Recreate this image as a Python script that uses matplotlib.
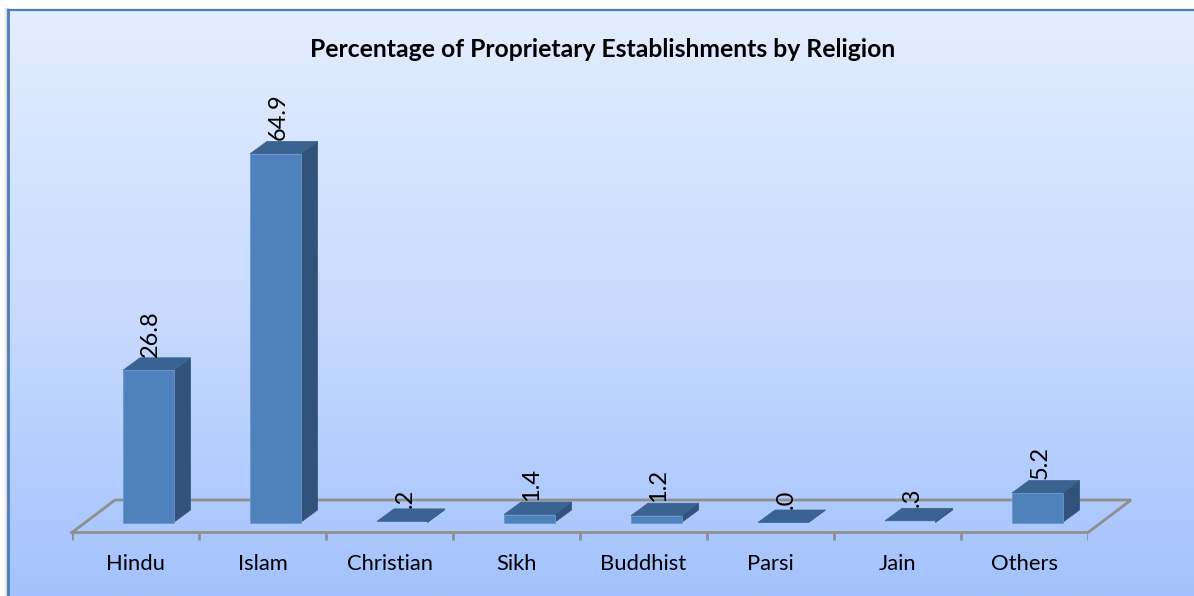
import numpy as np
import matplotlib
matplotlib.use("Agg")
import matplotlib.pyplot as plt
from matplotlib.colors import LinearSegmentedColormap
from matplotlib.patches import Polygon, Rectangle

categories = ["Hindu", "Islam", "Christian", "Sikh", "Buddhist", "Parsi", "Jain", "Others"]
values = [26.8, 64.9, 0.2, 1.4, 1.2, 0.0, 0.3, 5.2]
value_labels = ["26.8", "64.9", ".2", "1.4", "1.2", ".0", ".3", "5.2"]
title = "Percentage of Proprietary Establishments by Religion"

W, H = 1194, 596
plt.rcParams["font.family"] = ["Lato", "DejaVu Sans"]
fig = plt.figure(figsize=(W / 100, H / 100), dpi=100, facecolor="white")

# background panel with shadow and border
bg = fig.add_axes([0, 0, 1, 1], zorder=0)
bg.set_xlim(0, W); bg.set_ylim(H, 0); bg.axis("off")
cmap = LinearSegmentedColormap.from_list("panel", ["#e3edff", "#c9dbfe", "#a3c2fd"])
bg.imshow(np.linspace(0, 1, 256).reshape(-1, 1), cmap=cmap, aspect="auto",
          extent=[8, W, H, 10], zorder=1)
for i, a in enumerate([0.03, 0.05, 0.07]):
    bg.add_patch(Rectangle((4 + i, 7 + i * .5), 4, H, fc="black", alpha=a, ec="none", zorder=0))
bg.plot([8, 8], [H, 10], color="#4a7ebb", lw=2.0, solid_capstyle="butt", zorder=3)
bg.plot([7, W], [10, 10], color="#4a7ebb", lw=1.6, solid_capstyle="butt", zorder=3)
bg.set_xlim(0, W); bg.set_ylim(H, 0)

# chart axes: x in category units, y in value units
PX_X0, PX_X1 = 72, 1088
BASE_PY = 522.5
PX_PER_UNIT = 5.68
ax = fig.add_axes([PX_X0 / W, 0, (PX_X1 - PX_X0) / W, 1], zorder=1)
ax.patch.set_alpha(0); ax.axis("off")
ax.set_xlim(0, len(categories))
ax.set_ylim((BASE_PY - H) / PX_PER_UNIT, BASE_PY / PX_PER_UNIT)
ux = (PX_X1 - PX_X0) / len(categories)   # pixels per category
px = lambda d: d / ux
py = lambda d: d / PX_PER_UNIT

# floor
grey = "#8f8f8f"
fy0, fy1 = py(-10), py(22.5)
fd = px(43)
ax.plot([0, 8, 8 + fd, fd, 0], [fy0, fy0, fy1, fy1, fy0], color=grey, lw=2.0,
        solid_joinstyle="miter", clip_on=False, zorder=1)
for i in range(len(categories) + 1):
    ax.plot([i, i], [fy0, fy0 - py(7.5)], color=grey, lw=2.0, solid_capstyle="butt", zorder=1)

# bars
front = "#4f81bd"; top_c = "#3a6391"; side = "#30527b"; edge = "#6b97cc"
bw = px(50.5); dx = px(17); dy = py(12.5)
for i, v in enumerate(values):
    x0 = i + px(51); x1 = x0 + bw
    ax.add_patch(Polygon([(x1, 0), (x1 + dx, dy), (x1 + dx, v + dy), (x1, v)],
                         fc=side, ec=side, lw=.5, zorder=2))
    ax.add_patch(Polygon([(x0, v), (x1, v), (x1 + dx, v + dy), (x0 + dx, v + dy)],
                         fc=top_c, ec=top_c, lw=.5, zorder=2))
    if v >= 1:
        ax.add_patch(Rectangle((x0, 0), bw, v, fc=front, ec=edge, lw=.6, zorder=3))
    ax.text(x0 + bw / 2 + px(2.5), v + py(13.5), value_labels[i], rotation=90, ha="center", va="bottom",
            fontsize=17, color="black", zorder=4)
    ax.text(i + .5, py(-42), categories[i], ha="center", va="center", fontsize=15.8, color="black")

fig.text(603 / W, 1 - 49.5 / H, title, ha="center", va="center", fontsize=17.8,
         fontweight="bold", color="black")
fig.savefig("out.png", dpi=100)
